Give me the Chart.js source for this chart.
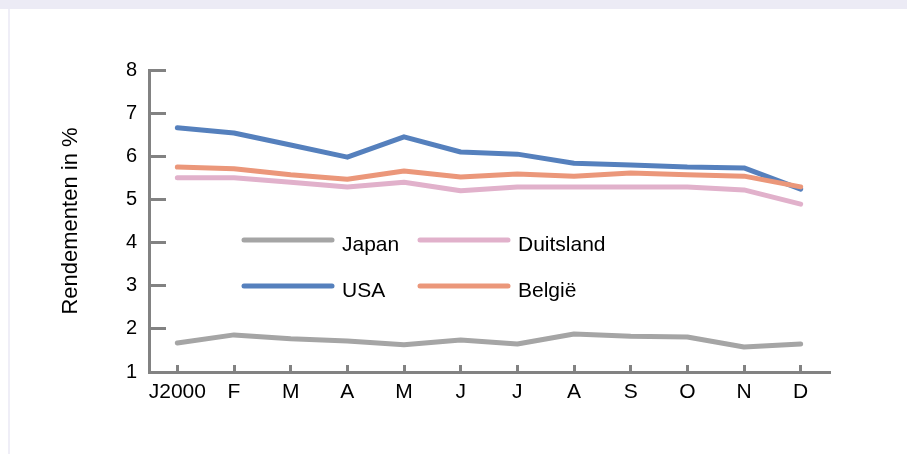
<!DOCTYPE html>
<html>
<head>
<meta charset="utf-8">
<script src="https://cdn.jsdelivr.net/npm/chart.js@4.4.0/dist/chart.umd.min.js"></script>
<style>
  body { margin: 0; background: #fff; }
  #topband { position: absolute; left: 0; top: 0; width: 907px; height: 9px; background: #ECEBF5; }
  #sideband { position: absolute; left: 8px; top: 9px; width: 2px; height: 445px; background: #EFEEF7; }
  #chart { position: absolute; left: 0; top: 0; }
</style>
</head>
<body>
<div id="topband"></div>
<div id="sideband"></div>
<canvas id="chart" width="907" height="454"></canvas>
<script>
// months of 2000
const months = ['J2000', 'F', 'M', 'A', 'M', 'J', 'J', 'A', 'S', 'O', 'N', 'D'];
const japan     = [1.67, 1.86, 1.77, 1.72, 1.63, 1.74, 1.65, 1.88, 1.83, 1.81, 1.58, 1.65];
const duitsland = [5.50, 5.50, 5.40, 5.29, 5.40, 5.20, 5.29, 5.29, 5.29, 5.29, 5.22, 4.89];
const usa       = [6.66, 6.54, 6.26, 5.98, 6.45, 6.10, 6.05, 5.84, 5.80, 5.75, 5.73, 5.24];
const belgie    = [5.75, 5.71, 5.57, 5.47, 5.66, 5.52, 5.59, 5.54, 5.61, 5.57, 5.54, 5.29];
const yMin = 1, yMax = 8;

const FONT = '"Liberation Sans", Arial, sans-serif';
const AXIS = '#828282';

function line(label, data, color, order) {
  return {
    label: label,
    data: data,
    borderColor: color,
    backgroundColor: color,
    borderWidth: 5,
    borderCapStyle: 'round',
    borderJoinStyle: 'round',
    pointRadius: 0,
    tension: 0,
    fill: false,
    order: order
  };
}

// legend drawn inside the plot, two columns
const innerLegend = {
  id: 'innerLegend',
  afterDraw(chart) {
    const ctx = chart.ctx;
    const area = chart.chartArea;
    const cols = [95, 271];
    const rows = [170, 216];
    chart.data.datasets.forEach((ds, i) => {
      const x = area.left + cols[i % 2];
      const y = area.top + rows[Math.floor(i / 2)];
      ctx.save();
      ctx.strokeStyle = ds.borderColor;
      ctx.lineWidth = 5;
      ctx.lineCap = 'round';
      ctx.beginPath();
      ctx.moveTo(x, y);
      ctx.lineTo(x + 88, y);
      ctx.stroke();
      ctx.fillStyle = '#000';
      ctx.font = '21px ' + FONT;
      ctx.textBaseline = 'alphabetic';
      ctx.fillText(ds.label, x + 98, y + 11);
      ctx.restore();
    });
  }
};

new Chart(document.getElementById('chart').getContext('2d'), {
  type: 'line',
  data: {
    labels: months,
    datasets: [
      line('Japan', japan, '#A5A5A5', 0),
      line('Duitsland', duitsland, '#E1B1CB', 0),
      line('USA', usa, '#5580BD', 1),
      line('België', belgie, '#EB977A', 0)
    ]
  },
  options: {
    responsive: false,
    animation: false,
    layout: { padding: { left: 55, top: 70, right: 78, bottom: 42 } },
    plugins: {
      legend: { display: false },
      tooltip: { enabled: false }
    },
    scales: {
      x: {
        offset: true,
        afterFit: s => { s.height = 40; },
        grid: {
          offset: false,
          drawOnChartArea: false,
          tickLength: -7,
          color: AXIS,
          lineWidth: 3
        },
        border: { color: AXIS, width: 3 },
        ticks: {
          color: '#000',
          padding: 15,
          maxRotation: 0,
          autoSkip: false,
          font: { family: FONT, size: 21 }
        }
      },
      y: {
        min: yMin,
        max: yMax,
        afterFit: s => { s.width = 94; },
        grid: {
          drawOnChartArea: false,
          tickLength: -17,
          color: AXIS,
          lineWidth: 3
        },
        border: { color: AXIS, width: 3 },
        ticks: {
          stepSize: 1,
          color: '#000',
          padding: 29,
          font: { family: FONT, size: 20 }
        },
        title: {
          display: true,
          text: 'Rendementen in %',
          color: '#000',
          padding: { top: 3, bottom: 0 },
          font: { family: FONT, size: 22 }
        }
      }
    }
  },
  plugins: [innerLegend]
});
</script>
</body>
</html>
